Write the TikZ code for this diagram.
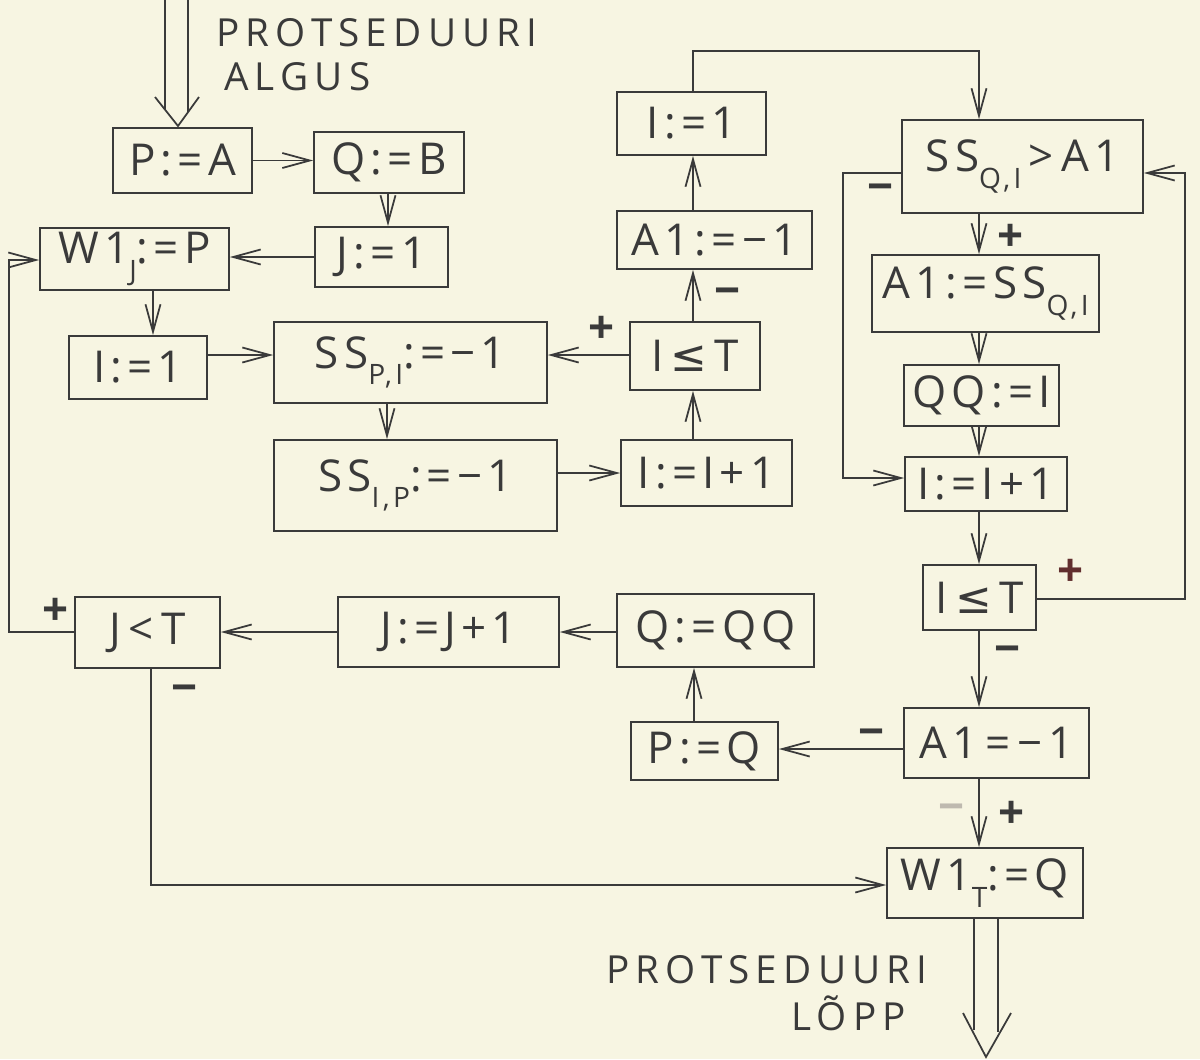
\documentclass[tikz,border=0pt]{standalone}
\usepackage{fontspec}
\setmainfont{Open Sans}[LetterSpace=12]
\newfontfamily\symfont{DejaVu Sans}
\newfontfamily\capfont{Open Sans}[LetterSpace=16]
\usetikzlibrary{arrows.meta}
\definecolor{paper}{RGB}{247,245,226}
\definecolor{ink}{RGB}{58,58,58}
\definecolor{faint}{RGB}{190,185,175}
\newcommand{\mysub}[1]{\raisebox{-0.7ex}{\fontsize{16}{18}\selectfont #1}}
\tikzset{
  box/.style={draw=ink, line width=1pt, rectangle, inner sep=0pt, text=ink,
    font=\fontsize{25}{28}\selectfont},
  arr/.style={draw=ink, line width=1pt, -{Straight Barb[length=5.5mm,width=3mm]}},
  ln/.style={draw=ink, line width=1pt},
  sign/.style={text=ink, font=\fontsize{26}{28}\selectfont\bfseries, inner sep=0pt},
  caption/.style={text=ink, font=\capfont\fontsize{22}{27}\selectfont, align=left, inner sep=0pt}
}
\begin{document}
\begin{tikzpicture}[x=0.02cm,y=-0.02cm]
\fill[paper] (0,0) rectangle (1200,1059);
\useasboundingbox (0,0) rectangle (1200,1059);

% boxes
\node[box, minimum width=2.78cm, minimum height=1.30cm] (pa) at (182.5,160.5) {P:=A};
\node[box, minimum width=3.00cm, minimum height=1.22cm] (qb) at (389,162.5) {Q:=B};
\node[box, minimum width=2.66cm, minimum height=1.20cm] (j1) at (381.5,257) {J:=1};
\node[box, minimum width=3.78cm, minimum height=1.24cm] (w1j) at (134.5,259) {W1\mysub{J}:=P};
\node[box, minimum width=2.76cm, minimum height=1.26cm] (i1a) at (138,367.5) {I:=1};
\node[box, minimum width=5.46cm, minimum height=1.62cm] (sspi) at (410.5,362.5) {SS\mysub{P,I}:=−1};
\node[box, minimum width=5.66cm, minimum height=1.82cm] (ssip) at (415.5,485.5) {SS\mysub{I,P}:=−1};
\node[box, minimum width=3.42cm, minimum height=1.32cm] (ii1m) at (706.5,473) {I:=I+1};
\node[box, minimum width=2.60cm, minimum height=1.36cm] (letm) at (695,356) {I\,{\symfont ≤}\,T};
\node[box, minimum width=3.90cm, minimum height=1.16cm] (a1m) at (714.5,240) {A1:=−1};
\node[box, minimum width=2.98cm, minimum height=1.26cm] (i1t) at (691.5,123.5) {I:=1};
\node[box, minimum width=4.82cm, minimum height=1.86cm] (ssq) at (1022.5,166.5) {SS\mysub{Q,I}\,>\,A1};
\node[box, minimum width=4.54cm, minimum height=1.54cm] (a1ss) at (985.5,293.5) {A1:=SS\mysub{Q,I}};
\node[box, minimum width=3.10cm, minimum height=1.22cm] (qqi) at (981.5,395.5) {QQ:=I};
\node[box, minimum width=3.24cm, minimum height=1.08cm] (ii1r) at (986,484) {I:=I+1};
\node[box, minimum width=2.26cm, minimum height=1.30cm] (letr) at (979.5,597.5) {I\,{\symfont ≤}\,T};
\node[box, minimum width=3.70cm, minimum height=1.40cm] (a1eq) at (996.5,743) {A1\,=\,−1};
\node[box, minimum width=3.92cm, minimum height=1.40cm] (w1t) at (985,883) {W1\mysub{T}:=Q};
\node[box, minimum width=2.94cm, minimum height=1.16cm] (pq) at (704.5,751) {P:=Q};
\node[box, minimum width=3.94cm, minimum height=1.46cm] (qqq) at (715.5,630.5) {Q:=QQ};
\node[box, minimum width=4.42cm, minimum height=1.40cm] (jj1) at (448.5,632) {J:=J+1};
\node[box, minimum width=2.90cm, minimum height=1.42cm] (jlt) at (147.5,632.5) {J\,<\,T};

% captions
\node[caption, anchor=north west] (cap1) at (216,18) {PROTSEDUURI\\[-2pt]\hspace*{0.16cm}ALGUS};
\node[caption, anchor=north west] (cap2) at (606,955) {PROTSEDUURI\\[0pt]\hspace*{3.7cm}LÕPP};

% helper coordinates (x positions of vertical lines, y positions of horizontal lines)
\coordinate (xa) at (388,0);
\coordinate (xb) at (153,0);
\coordinate (xc) at (387,0);
\coordinate (xd) at (693,0);
\coordinate (xe) at (979,0);
\coordinate (xf) at (694,0);
\coordinate (xg) at (151,0);
\coordinate (ya) at (0,355);
\coordinate (yb) at (0,473);
\coordinate (yc) at (0,173);
\coordinate (yd) at (0,599);
\coordinate (ye) at (0,478);
\coordinate (yf) at (0,749);
\coordinate (yg) at (0,632);
\coordinate (yh) at (0,885);
\coordinate (top) at (0,51);
\coordinate (lft) at (9,260);
\coordinate (rgt) at (1185,0);
\coordinate (mid) at (843,0);

% entry double arrow
\coordinate (inA) at (165,0);
\coordinate (inB) at (188,0);
\draw[ln] (inA) -- (165,110);
\draw[ln] (inB) -- (188,112);
\draw[ln, line join=miter] (155,97) -- (178,126) -- (199,97);

% exit double arrow
\draw[ln] (w1t.south -| 974,0) -- (974,1030);
\draw[ln] (w1t.south -| 998,0) -- (998,1032);
\draw[ln, line join=miter] (963,1013) -- (986,1057) -- (1011,1013);

% connectors
\draw[arr] (pa.east) -- (pa.east -| qb.west);
\draw[arr] (xa |- qb.south) -- (xa |- j1.north);
\draw[arr] (j1.west) -- (j1.west -| w1j.east);
\draw[arr] (xb |- w1j.south) -- (xb |- i1a.north);
\draw[arr] (i1a.east |- ya) -- (sspi.west |- ya);
\draw[arr] (xc |- sspi.south) -- (xc |- ssip.north);
\draw[arr] (ssip.east |- yb) -- (ii1m.west |- yb);
\draw[arr] (xd |- ii1m.north) -- (xd |- letm.south);
\draw[arr] (letm.west |- ya) -- (sspi.east |- ya);
\draw[arr] (xd |- letm.north) -- (xd |- a1m.south);
\draw[arr] (xd |- a1m.north) -- (xd |- i1t.south);
\draw[arr] (xd |- i1t.north) -- (xd |- top) -- (xe |- top) -- (xe |- ssq.north);
\draw[arr] (xe |- ssq.south) -- (xe |- a1ss.north);
\draw[arr] (ssq.west |- yc) -- (mid |- yc) -- (mid |- ye) -- (ii1r.west |- ye);
\draw[arr] (xe |- a1ss.south) -- (xe |- qqi.north);
\draw[arr] (xe |- qqi.south) -- (xe |- ii1r.north);
\draw[arr] (xe |- ii1r.south) -- (xe |- letr.north);
\draw[arr] (letr.east |- yd) -- (rgt |- yd) -- (rgt |- yc) -- (ssq.east |- yc);
\draw[arr] (xe |- letr.south) -- (xe |- a1eq.north);
\draw[arr] (a1eq.west |- yf) -- (pq.east |- yf);
\draw[arr] (xe |- a1eq.south) -- (xe |- w1t.north);
\draw[arr] (xf |- pq.north) -- (xf |- qqq.south);
\draw[arr] (qqq.west |- yg) -- (jj1.east |- yg);
\draw[arr] (jj1.west |- yg) -- (jlt.east |- yg);
\draw[arr] (jlt.west |- yg) -- (lft |- yg) -- (lft) -- (lft -| w1j.west);
\draw[arr] (xg |- jlt.south) -- (xg |- yh) -- (w1t.west |- yh);

% branch signs
\node[sign] (s1) at (602,330) {+};
\node[sign] (s2) at (728,297) {−};
\node[sign] (s3) at (881,193) {−};
\node[sign] (s4) at (1011,238) {+};
\node[sign, text=ink!80!red] (s5) at (1071,573) {+};
\node[sign] (s6) at (1008,655) {−};
\node[sign] (s7) at (872,738) {−};
\node[sign] (s8) at (1012,815) {+};
\node[sign, text=faint] (s9) at (952,813) {−};
\node[sign] (s10) at (56,612) {+};
\node[sign] (s11) at (185,694) {−};
\end{tikzpicture}
\end{document}
